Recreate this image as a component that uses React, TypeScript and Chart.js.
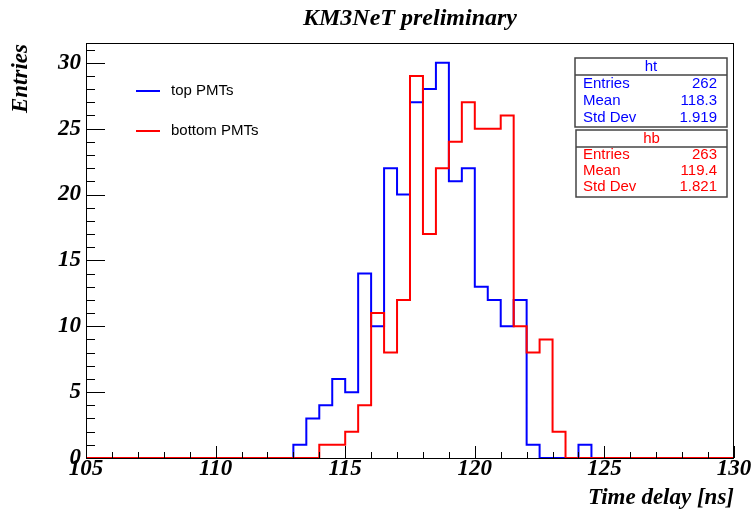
import React, { useEffect, useRef } from 'react';
import { Chart, registerables } from 'chart.js';

Chart.register(...registerables);

// ---- data ----
const binStart = 105;
const binWidth = 0.5;
const topCounts = [
  0, 0, 0, 0, 0, 0, 0, 0, 0, 0,
  0, 0, 0, 0, 0, 0, 1, 3, 4, 6,
  5, 14, 10, 22, 20, 27, 28, 30, 21, 22,
  13, 12, 10, 12, 1, 0, 0, 0, 1, 0,
  0, 0, 0, 0, 0, 0, 0, 0, 0, 0,
];
const bottomCounts = [
  0, 0, 0, 0, 0, 0, 0, 0, 0, 0,
  0, 0, 0, 0, 0, 0, 0, 0, 1, 1,
  2, 4, 11, 8, 12, 29, 17, 22, 24, 27,
  25, 25, 26, 10, 8, 9, 2, 0, 0, 0,
  0, 0, 0, 0, 0, 0, 0, 0, 0, 0,
];
const xTicks = [105, 110, 115, 120, 125, 130];
const yTicks = [0, 5, 10, 15, 20, 25, 30];
const seriesNames = ['top PMTs', 'bottom PMTs'];
const statNames = ['ht', 'hb'];
const statLabels = ['Entries', 'Mean', 'Std Dev'];
const topStats = ['262', '118.3', '1.919'];
const bottomStats = ['263', '119.4', '1.821'];

const BLUE = '#0000ff';
const RED = '#ff0000';
const SERIF = '"Liberation Serif", "DejaVu Serif", serif';
const SANS = '"Liberation Sans", Arial, sans-serif';

function toSteps(counts: number[]) {
  const pts = counts.map((c, i) => ({ x: binStart + i * binWidth, y: c }));
  pts.push({ x: binStart + counts.length * binWidth, y: counts[counts.length - 1] });
  return pts;
}

const decorPlugin = {
  id: 'rootDecor',
  afterDraw(chart: any) {
    const ctx: CanvasRenderingContext2D = chart.ctx;
    const { left, right, top, bottom } = chart.chartArea;
    const xs = chart.scales.x;
    const ys = chart.scales.y;
    ctx.save();
    // frame
    ctx.strokeStyle = '#000';
    ctx.lineWidth = 1;
    ctx.strokeRect(Math.round(left) + 0.5, Math.round(top) + 0.5, Math.round(right - left) - 1, Math.round(bottom - top));
    // x ticks (inward)
    ctx.beginPath();
    for (let v = xs.min; v <= xs.max; v += 1) {
      const px = Math.round(xs.getPixelForValue(v)) + 0.5;
      const len = v % 5 === 0 ? 12 : 6;
      ctx.moveTo(px, bottom);
      ctx.lineTo(px, bottom - len);
    }
    // y ticks (inward)
    for (let v = 0; v <= ys.max; v += 1) {
      const py = Math.round(ys.getPixelForValue(v)) + 0.5;
      const len = v % 5 === 0 ? 19 : 9;
      ctx.moveTo(left, py);
      ctx.lineTo(left + len, py);
    }
    ctx.stroke();

    // title
    ctx.fillStyle = '#000';
    ctx.font = `italic bold 24px ${SERIF}`;
    ctx.textAlign = 'center';
    ctx.textBaseline = 'middle';
    ctx.fillText('KM3NeT preliminary', (left + right) / 2, 19);

    // x axis title
    ctx.font = `italic bold 23px ${SERIF}`;
    ctx.textAlign = 'right';
    ctx.fillText('Time delay [ns]', right, 498);

    // y axis title
    ctx.save();
    ctx.translate(21, top + 1);
    ctx.rotate(-Math.PI / 2);
    ctx.textAlign = 'right';
    ctx.fillText('Entries', 0, 0);
    ctx.restore();

    // legend
    const legendRows = [
      { y: 91, color: BLUE, text: seriesNames[0] },
      { y: 131, color: RED, text: seriesNames[1] },
    ];
    ctx.font = `15px ${SANS}`;
    ctx.textAlign = 'left';
    legendRows.forEach((r) => {
      ctx.strokeStyle = r.color;
      ctx.lineWidth = 2;
      ctx.beginPath();
      ctx.moveTo(136, r.y);
      ctx.lineTo(160, r.y);
      ctx.stroke();
      ctx.fillStyle = '#000';
      ctx.fillText(r.text, 171, r.y);
    });

    // stats boxes
    const boxes = [
      { x0: 575, x1: 727, y0: 58, y1: 127, hl: 75, color: BLUE, name: statNames[0], vals: topStats, rows: [84, 101, 118], hy: 66.5 },
      { x0: 576, x1: 727, y0: 130, y1: 197, hl: 147, color: RED, name: statNames[1], vals: bottomStats, rows: [155, 171, 187], hy: 138.5 },
    ];
    boxes.forEach((b) => {
      ctx.fillStyle = '#fff';
      ctx.fillRect(b.x0, b.y0, b.x1 - b.x0, b.y1 - b.y0);
      ctx.strokeStyle = '#444';
      ctx.lineWidth = 1.5;
      ctx.strokeRect(b.x0, b.y0, b.x1 - b.x0, b.y1 - b.y0);
      ctx.beginPath();
      ctx.moveTo(b.x0, b.hl);
      ctx.lineTo(b.x1, b.hl);
      ctx.stroke();
      ctx.fillStyle = b.color;
      ctx.font = `15px ${SANS}`;
      ctx.textBaseline = 'middle';
      ctx.textAlign = 'center';
      ctx.fillText(b.name, (b.x0 + b.x1) / 2, b.hy);
      statLabels.forEach((lab, i) => {
        ctx.textAlign = 'left';
        ctx.fillText(lab, 583, b.rows[i]);
        ctx.textAlign = 'right';
        ctx.fillText(b.vals[i], 717, b.rows[i]);
      });
    });
    ctx.restore();
  },
};

export default function App() {
  const ref = useRef<HTMLCanvasElement>(null);
  useEffect(() => {
    if (!ref.current) return;
    const tickFont = { family: SERIF, size: 23, style: 'italic' as const, weight: 'bold' as const, lineHeight: 1 };
    const chart = new Chart(ref.current, {
      type: 'line',
      data: {
        datasets: [
          {
            label: seriesNames[0],
            data: toSteps(topCounts),
            borderColor: BLUE,
            borderWidth: 2,
            pointRadius: 0,
            stepped: 'before',
            fill: false,
            clip: false as any,
            order: 2,
          },
          {
            label: seriesNames[1],
            data: toSteps(bottomCounts),
            borderColor: RED,
            borderWidth: 2,
            pointRadius: 0,
            stepped: 'before',
            fill: false,
            clip: false as any,
            order: 1,
          },
        ],
      },
      options: {
        animation: false,
        responsive: false,
        layout: { padding: { left: 0, right: 19, top: 43, bottom: 0 } },
        plugins: { legend: { display: false }, title: { display: false }, tooltip: { enabled: false } },
        scales: {
          x: {
            type: 'linear',
            min: xTicks[0],
            max: xTicks[xTicks.length - 1],
            grid: { display: false, drawTicks: false },
            border: { display: false },
            afterBuildTicks: (s: any) => { s.ticks = xTicks.map((v) => ({ value: v })); },
            afterFit: (s: any) => { s.height = 55; },
            ticks: { font: tickFont, color: '#000', padding: 0, autoSkip: false, maxRotation: 0, callback: (v: any) => String(v) },
          },
          y: {
            type: 'linear',
            min: 0,
            max: 31.5,
            grid: { display: false, drawTicks: false },
            border: { display: false },
            afterBuildTicks: (s: any) => { s.ticks = yTicks.map((v) => ({ value: v })); },
            afterFit: (s: any) => { s.width = 86; },
            ticks: { font: tickFont, color: '#000', padding: 5, callback: (v: any) => String(v) },
          },
        },
      },
      plugins: [decorPlugin],
    });
    return () => chart.destroy();
  }, []);
  return (
    <div style={{ position: 'absolute', left: 0, top: 0, width: 753, height: 513, background: '#fff' }}>
      <canvas ref={ref} width={753} height={513} style={{ display: 'block' }} />
    </div>
  );
}
